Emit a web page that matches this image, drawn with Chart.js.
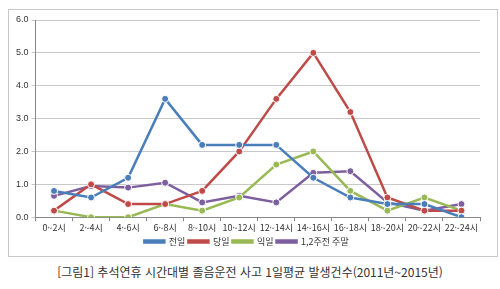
<!DOCTYPE html>
<html lang="ko">
<head>
  <meta charset="UTF-8" />
  <title>추석연휴 시간대별 졸음운전 사고</title>
  <script src="https://cdn.jsdelivr.net/npm/chart.js"></script>
</head>
<style>
    body {
      margin: 0;
      width: 500px;
      height: 289px;
      background: #fff;
      font-family: "Noto Sans CJK KR", sans-serif;
    }
    .frame {
      position: absolute;
      left: 8px;
      top: 9px;
      width: 488px;
      height: 246px;
      border: 1px solid #c8c8c8;
    }
    #grafico {
      width: 488px !important;
      height: 246px !important;
    }
    .caption {
      position: absolute;
      left: 0;
      top: 263px;
      width: 500px;
      text-align: center;
      font-size: 12px;
      color: #333;
    }
  </style>
<body>
  <div class="frame">
    <canvas id="grafico" width="488" height="246"></canvas>
  </div>
  <div class="caption">[그림1] 추석연휴 시간대별 졸음운전 사고 1일평균 발생건수(2011년~2015년)</div>
  <script>
    const horas = ['0~2시', '2~4시', '4~6시', '6~8시', '8~10시', '10~12시', '12~14시', '14~16시', '16~18시', '18~20시', '20~22시', '22~24시'];
    const jeonil = [0.8, 0.6, 1.2, 3.6, 2.2, 2.2, 2.2, 1.2, 0.6, 0.4, 0.4, 0.0];
    const dangil = [0.2, 1.0, 0.4, 0.4, 0.8, 2.0, 3.6, 5.0, 3.2, 0.6, 0.2, 0.2];
    const ikil = [0.2, 0.0, 0.0, 0.4, 0.2, 0.6, 1.6, 2.0, 0.8, 0.2, 0.6, 0.2];
    const jumal = [0.65, 0.95, 0.9, 1.05, 0.45, 0.65, 0.45, 1.35, 1.4, 0.45, 0.2, 0.4];

    function serie(label, data, cor) {
      return {
        label: label,
        data: data,
        borderColor: cor,
        backgroundColor: cor,
        pointBackgroundColor: cor,
        pointBorderColor: '#fff',
        pointBorderWidth: 1,
        pointRadius: 3.5,
        borderWidth: 2.5,
        tension: 0
      };
    }

    const ctx = document.getElementById('grafico').getContext('2d');
    new Chart(ctx, {
      type: 'line',
      data: {
        labels: horas,
        datasets: [
          serie('전일', jeonil, '#4a7ebb'),
          serie('당일', dangil, '#be4b48'),
          serie('익일', ikil, '#98b954'),
          serie('1,2주전 주말', jumal, '#7d5fa0')
        ]
      },
      options: {
        responsive: false,
        animation: false,
        layout: { padding: { left: 4, right: 17, top: 10, bottom: 0 } },
        plugins: {
          legend: {
            position: 'bottom',
            labels: {
              boxWidth: 20,
              boxHeight: 2,
              padding: 3,
              font: { size: 9, family: 'Noto Sans CJK KR' },
              color: '#333'
            }
          },
          tooltip: { enabled: false }
        },
        scales: {
          x: {
            offset: true,
            grid: { display: true, drawOnChartArea: false, offset: true, color: '#888', tickLength: 4 },
            border: { color: '#888' },
            ticks: { padding: 1, font: { size: 9, family: 'Noto Sans CJK KR' }, color: '#333', maxRotation: 0, autoSkip: false }
          },
          y: {
            min: 0,
            max: 6,
            ticks: { stepSize: 1, font: { size: 9 }, color: '#333', callback: v => v.toFixed(1) },
            grid: { color: '#c8c8c8', tickLength: 4 },
            border: { color: '#888' }
          }
        }
      }
    });
  </script>
</body>
</html>
